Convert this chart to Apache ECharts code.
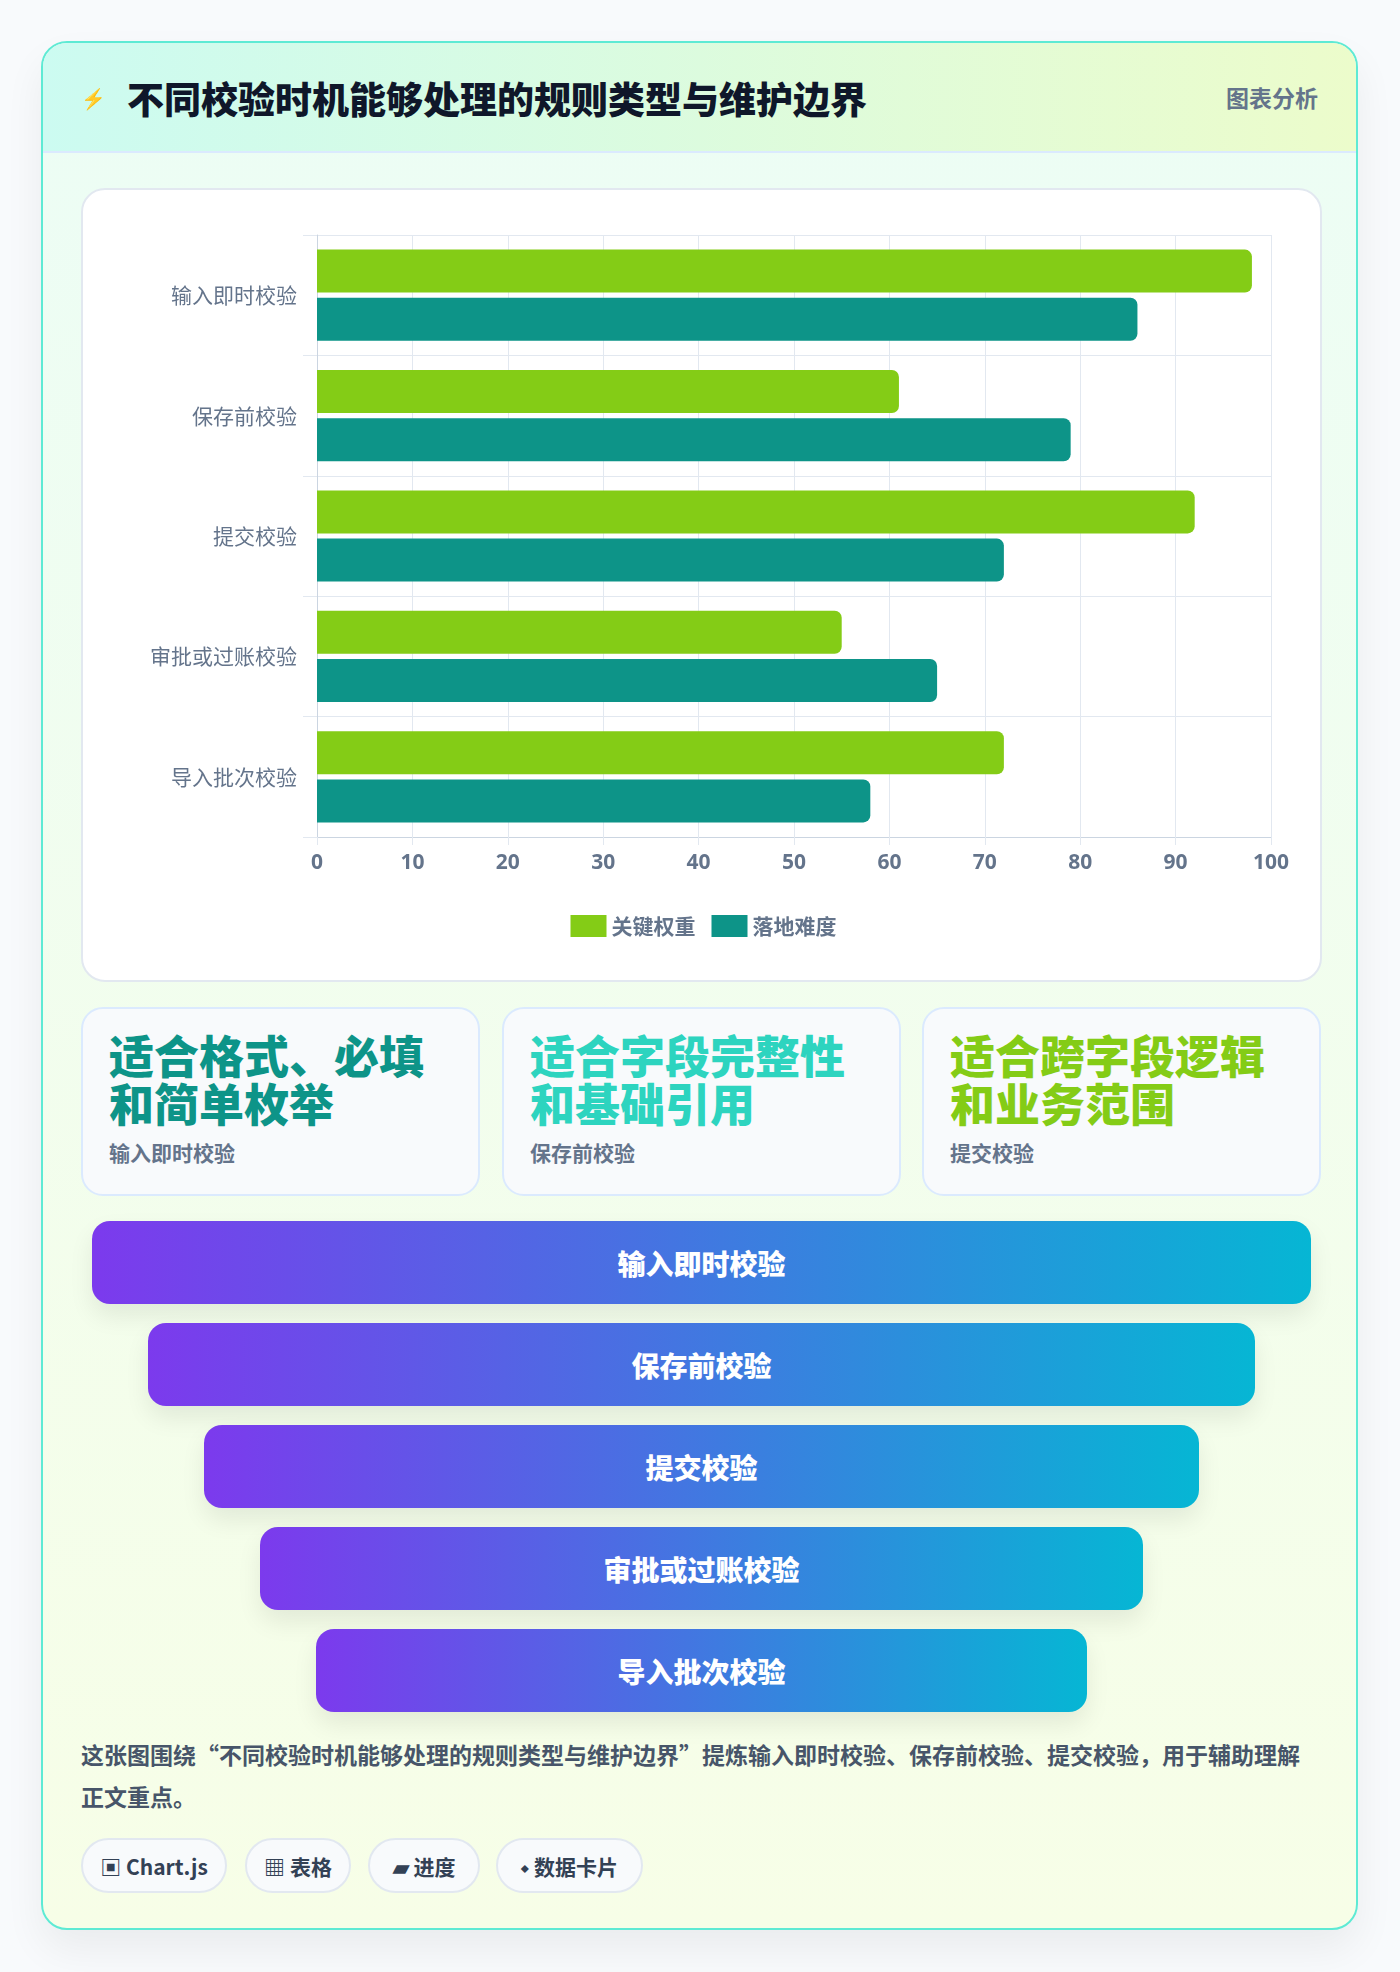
<!DOCTYPE html>
<html><head><meta charset="utf-8">
<script src="https://cdn.jsdelivr.net/npm/echarts@6/dist/echarts.min.js"></script>
<style>
*{box-sizing:border-box;margin:0;padding:0}
body{width:1400px;height:1972px;background:#f8fafc;font-family:"Noto Sans CJK SC","Noto Sans",sans-serif;position:relative;overflow:hidden}
#card{position:absolute;left:41px;top:41px;width:1317px;height:1889px;border:2px solid #5eead4;border-radius:26px;background:linear-gradient(180deg,#ecfdf5 0%,#f7fee7 100%);overflow:hidden;box-shadow:0 20px 40px rgba(0,0,0,.06)}
#head{position:absolute;left:0;top:0;width:100%;height:110px;background:linear-gradient(90deg,#ccfbf1,#ecfccb);border-bottom:2px solid #dbeafe}
#title{position:absolute;left:84px;top:28px;font-size:37px;font-weight:900;color:#0f172a}
#bolt{position:absolute;left:38px;top:40px;font-size:20px;color:#2563eb}
#tag{position:absolute;right:38px;top:37px;font-size:23px;font-weight:700;color:#64748b}
#panel{position:absolute;left:38px;top:145px;width:1241px;height:794px;background:#fff;border:2px solid #e2e8f0;border-radius:24px}
#chart{position:absolute;left:0;top:0;width:1241px;height:794px}
.c{position:absolute;top:964px;width:399px;height:189px;background:#f8fafc;border:2px solid #dbeafe;border-radius:22px;padding:22px 26px}
.c .b{font-size:45px;font-weight:900;line-height:48px}
.c .s{font-size:21px;font-weight:700;color:#64748b;margin-top:10px}
.f{position:absolute;height:83px;border-radius:18px;background:linear-gradient(90deg,#7c3aed,#06b6d4);color:#fff;font-size:28px;font-weight:800;display:flex;align-items:center;justify-content:center;box-shadow:0 12px 24px rgba(0,0,0,.08)}
#para{position:absolute;left:38px;top:1690px;width:1240px;font-size:23px;font-weight:700;color:#475569;line-height:42px}
.chip{position:absolute;top:1795px;height:55px;border:2px solid #e2e8f0;border-radius:28px;background:#f8fafc;font-size:21px;font-weight:700;color:#334155;display:flex;align-items:center;justify-content:center}
</style></head><body>
<div id="card">
<div id="head"><div id="bolt">⚡</div><div id="title">不同校验时机能够处理的规则类型与维护边界</div><div id="tag">图表分析</div></div>
<div id="panel"><div id="chart"></div></div>
<div id="cards"></div>
<div id="funnel"></div>
<div id="para">这张图围绕“不同校验时机能够处理的规则类型与维护边界”提炼输入即时校验、保存前校验、提交校验，用于辅助理解正文重点。</div>
<div id="chips"></div>
</div>
<script>
const categories=["输入即时校验","保存前校验","提交校验","审批或过账校验","导入批次校验"];
const seriesNames=["关键权重","落地难度"];
const weightValues=[98,61,92,55,72];
const difficultyValues=[86,79,72,65,58];
const cardTitles=["适合格式、必填和简单枚举","适合字段完整性和基础引用","适合跨字段逻辑和业务范围"];
const cardSubs=["输入即时校验","保存前校验","提交校验"];
const chipLabels=["▣ Chart.js","▦ 表格","▰ 进度","⬩ 数据卡片"];

const cardColors=["#0d9488","#2dd4bf","#84cc16"];
const cardLeft=[38,459,879];
const cardsEl=document.getElementById('cards');
cardTitles.forEach((t,i)=>{const d=document.createElement('div');d.className='c';d.style.left=cardLeft[i]+'px';
d.innerHTML='<div class="b" style="color:'+cardColors[i]+'">'+t+'</div><div class="s">'+cardSubs[i]+'</div>';cardsEl.appendChild(d);});
const fEl=document.getElementById('funnel');
categories.forEach((t,i)=>{const d=document.createElement('div');d.className='f';d.style.left=(49+56*i)+'px';d.style.width=(1219-112*i)+'px';d.style.top=(1178+102*i)+'px';d.textContent=t;fEl.appendChild(d);});
const chipL=[38,202,325,453],chipW=[146,106,112,147];
const cEl=document.getElementById('chips');
chipLabels.forEach((t,i)=>{const d=document.createElement('div');d.className='chip';d.style.left=chipL[i]+'px';d.style.width=chipW[i]+'px';d.textContent=t;cEl.appendChild(d);});

const ch=echarts.init(document.getElementById('chart'));
ch.setOption({
 animation:false,
 grid:{left:234,right:53,top:45,bottom:147,containLabel:false},
 legend:{bottom:42,itemWidth:36,itemHeight:22,itemGap:16,icon:'rect',textStyle:{fontSize:21,fontWeight:700,color:'#64748b',fontFamily:'Noto Sans CJK SC'}},
 xAxis:{type:'value',min:0,max:100,interval:10,axisLine:{show:true,lineStyle:{color:'#cbd5e1'}},axisTick:{show:true,length:8,lineStyle:{color:'#e2e8f0'}},
  splitLine:{lineStyle:{color:'#e2e8f0'}},axisLabel:{fontSize:21,fontWeight:700,color:'#64748b',margin:16,fontFamily:'Noto Sans'}},
 yAxis:{type:'category',inverse:true,data:categories,axisLine:{show:true,lineStyle:{color:'#cbd5e1'}},axisTick:{show:true,length:14,lineStyle:{color:'#e2e8f0'}},
  splitLine:{show:true,lineStyle:{color:'#e2e8f0'}},axisLabel:{fontSize:21,color:'#64748b',margin:20,fontFamily:'Noto Sans CJK SC'}},
 series:[
  {name:seriesNames[0],type:'bar',data:weightValues,barWidth:43,barGap:'12%',itemStyle:{color:'#84cc16',borderRadius:[0,7,7,0]}},
  {name:seriesNames[1],type:'bar',data:difficultyValues,barWidth:43,itemStyle:{color:'#0d9488',borderRadius:[0,7,7,0]}}
 ]
});
</script>
</body></html>
